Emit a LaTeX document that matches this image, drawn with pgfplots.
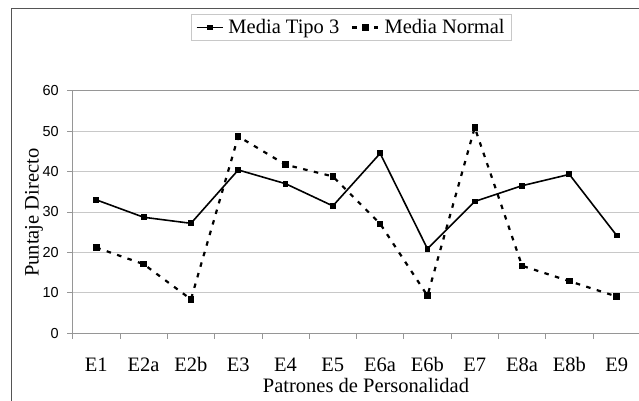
\documentclass[border=0pt]{standalone}
\usepackage{fontspec}
\setmainfont{Liberation Serif}
\newfontfamily\arialfont{Liberation Sans}
\usepackage{pgfplots}
\pgfplotsset{compat=1.18}

\definecolor{gridgray}{RGB}{200,200,200}
\definecolor{axgray}{RGB}{150,150,150}
\definecolor{framegray}{RGB}{85,85,85}

\newcommand{\bigfont}{\fontsize{20.5}{24}\selectfont}

\begin{document}
\begin{tikzpicture}
\useasboundingbox (0pt,0pt) rectangle (639pt,401pt);
% outer chart frame (its right and bottom edges are cut off)
\draw[framegray, line width=1.1pt] (11.7pt,0pt) -- (11.7pt,392.7pt) -- (639pt,392.7pt);
\begin{axis}[
    at={(72.7pt,67.7pt)}, anchor=south west,
    scale only axis,
    width=567.6pt, height=242.6pt,
    xmin=-0.5, xmax=11.5,
    ymin=0, ymax=60,
    xtick={-0.5,0.5,...,11.5},
    xticklabels={},
    extra x ticks={0,...,11},
    extra x tick labels={E1,E2a,E2b,E3,E4,E5,E6a,E6b,E7,E8a,E8b,E9},
    extra x tick style={major tick length=0pt},
    ytick={0,10,...,60},
    xtick pos=bottom, ytick pos=left,
    tick align=outside,
    major tick length=5.5pt,
    tick style={draw=axgray, line width=0.8pt},
    axis line style={axgray, line width=0.8pt},
    ymajorgrids,
    y grid style={gridgray, line width=0.8pt},
    /pgf/number format/assume math mode=true,
    yticklabel style={font=\arialfont\fontsize{14.5}{17}\selectfont, text=black, xshift=-5pt},
    xticklabel style={font=\bigfont, text=black, anchor=base, yshift=-37.7pt},
    xlabel={Patrones de Personalidad},
    ylabel={Puntaje Directo},
    xlabel style={font=\bigfont, at={(axis description cs:0.5167,-0.217)}, anchor=center},
    ylabel style={font=\bigfont, at={(axis description cs:-0.0682,0.497)}, anchor=center},
    legend columns=2,
    legend style={at={(0.4908,1.2605)}, anchor=center, draw=gridgray,
        font=\bigfont, inner ysep=3pt, inner xsep=5pt,
        /tikz/every odd column/.append style={column sep=3pt},
        /tikz/every even column/.append style={column sep=10pt}},
    legend image code/.code={%
        \draw[mark repeat=2,mark phase=2] plot coordinates {(0pt,0pt) (13pt,0pt) (26pt,0pt)};},
]
\addplot[black, line width=1.6pt, mark=square*, mark size=2.1pt] coordinates {
    (0,33.0) (1,28.7) (2,27.2) (3,40.4) (4,37.0) (5,31.5)
    (6,44.5) (7,20.9) (8,32.6) (9,36.5) (10,39.3) (11,24.2)
};
\addplot[black, line width=2.2pt, dash pattern=on 4.5pt off 6.5pt, mark=square*, mark size=2.1pt, mark options={solid}] coordinates {
    (0,21.2) (1,17.1) (2,8.4) (3,48.7) (4,41.7) (5,38.8)
    (6,27.1) (7,9.3) (8,50.9) (9,16.7) (10,12.9) (11,9.1)
};
\legend{Media Tipo 3,Media Normal}
\end{axis}
\end{tikzpicture}
\end{document}
